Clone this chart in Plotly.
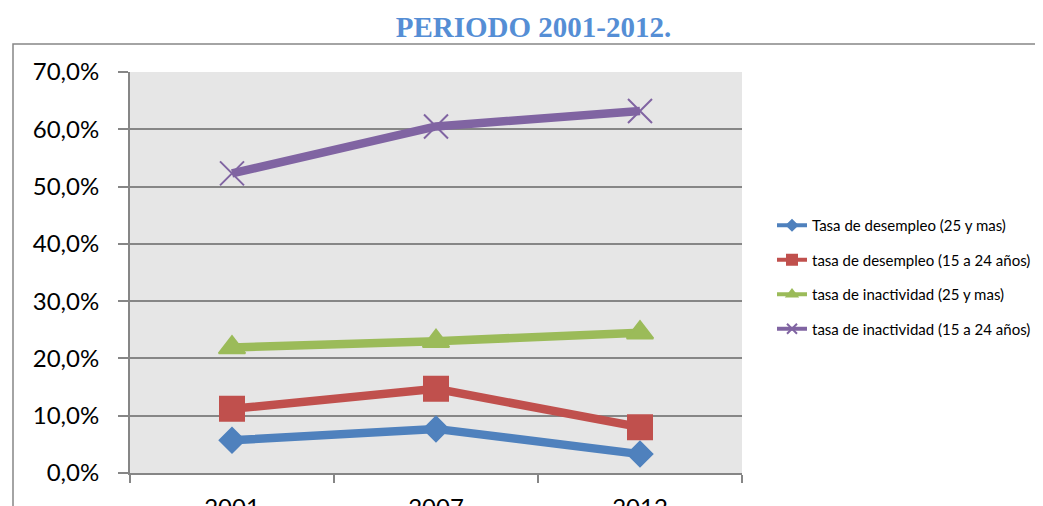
import plotly.graph_objects as go

years = ["2001", "2007", "2012"]
series_names = [
    "Tasa de desempleo (25 y mas)",
    "tasa de desempleo (15 a 24 años)",
    "tasa de inactividad (25 y mas)",
    "tasa de inactividad (15 a 24 años)",
]
desempleo_25 = [0.057, 0.077, 0.033]
desempleo_15_24 = [0.112, 0.147, 0.080]
inactividad_25 = [0.219, 0.230, 0.245]
inactividad_15_24 = [0.523, 0.605, 0.632]
y_ticks = [0.0, 0.1, 0.2, 0.3, 0.4, 0.5, 0.6, 0.7]
title_text = "PERIODO 2001-2012."

values = [desempleo_25, desempleo_15_24, inactividad_25, inactividad_15_24]
colors = ["#4F81BD", "#C0504D", "#9BBB59", "#8064A2"]
symbols = ["diamond", "square", "triangle-up", "x-thin-open"]
sizes = [19, 24, 23, 24]
legend_sizes = [8, 10, 9, 10]

fig = go.Figure()
for name, vals, col, sym, sz in zip(series_names, values, colors, symbols, sizes):
    fig.add_trace(go.Scatter(
        x=years, y=vals, mode="lines+markers", name=name, showlegend=False,
        line=dict(color=col, width=8.5),
        marker=dict(symbol=sym, size=sz, color=col, line=dict(color=col, width=2)),
        hoverinfo="skip",
    ))
for i, (name, col, sym, sz) in enumerate(zip(series_names, colors, symbols, legend_sizes)):
    fig.add_trace(go.Scatter(
        x=[None], y=[None], mode="lines+markers", name=name, legendgroup=f"g{i}",
        line=dict(color=col, width=4),
        marker=dict(symbol=sym, size=sz, color=col, line=dict(color=col, width=2)),
    ))

# page has an 8px body margin; figure coordinates = screen - 8
OFF = 8
W, H = 1043 - OFF, 506 - OFF
L, R, T, B = 130 - OFF, 742 - OFF, 72 - OFF, 473 - OFF
pw, ph = R - L, B - T

fig.update_layout(
    width=W, height=H,
    margin=dict(l=L, r=W - R, t=T, b=H - B, pad=0, autoexpand=False),
    paper_bgcolor="white",
    plot_bgcolor="#E6E6E6",
    separators=",.",
    font=dict(family="Lato, Calibri, sans-serif", color="#000000"),
    title=dict(
        text="<b>" + title_text + "</b>",
        font=dict(family="Liberation Serif, Times New Roman, serif", size=29, color="#558ED5"),
        x=(533.5 - OFF) / W, xanchor="center", xref="container",
        y=1 - (27 - OFF) / H, yanchor="middle", yref="container",
    ),
    xaxis=dict(
        type="category", range=[-0.5, 2.5], automargin=False,
        tickson="boundaries", ticks="outside", ticklen=8, tickwidth=2, tickcolor="#868686",
        showline=True, linecolor="#868686", linewidth=2,
        showgrid=False, zeroline=False,
        tickfont=dict(size=24), ticklabelstandoff=12,
    ),
    yaxis=dict(
        range=[0, 0.7], tickvals=y_ticks, tickformat=".1%", automargin=False,
        ticks="outside", ticklen=10, tickwidth=2, tickcolor="#868686",
        showline=True, linecolor="#868686", linewidth=2,
        showgrid=True, gridcolor="#868686", gridwidth=2, zeroline=False,
        tickfont=dict(size=24), ticklabelstandoff=14,
    ),
    legend=dict(
        x=(772 - OFF - L) / pw, xanchor="left",
        y=(B - (209 - OFF)) / ph, yanchor="top",
        font=dict(size=15, family="Lato, Calibri, sans-serif"),
        tracegroupgap=12, bgcolor="rgba(0,0,0,0)",
    ),
    shapes=[dict(
        type="rect", xref="paper", yref="paper",
        x0=(13 - OFF - L) / pw, x1=(1060 - OFF - L) / pw,
        y0=(B - 520) / ph, y1=(B - (44 - OFF)) / ph,
        line=dict(color="#868686", width=1.5), fillcolor="rgba(0,0,0,0)", layer="below",
    )],
)

fig.write_html("out.html")
